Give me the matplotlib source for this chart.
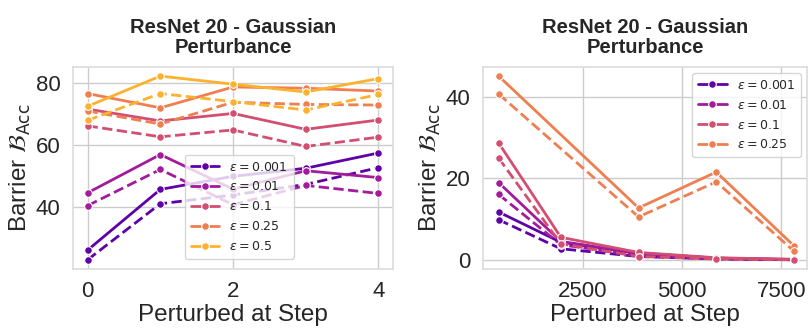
import numpy as np
import matplotlib
matplotlib.use("Agg")
import matplotlib.pyplot as plt
import seaborn as sns
from matplotlib.lines import Line2D

sns.set_theme(style="whitegrid")
plt.rcParams['font.family'] = ['Liberation Sans', 'DejaVu Sans']
plt.rcParams['mathtext.fontset'] = 'dejavusans'

# ---------------- data ----------------
eps_left = ["0.001", "0.01", "0.1", "0.25", "0.5"]
steps_left = [0, 1, 2, 3, 4]
left_solid = {
    "0.001": [26.3, 45.8, 50.0, 52.6, 57.5],
    "0.01": [44.7, 57.0, 45.9, 51.8, 49.6],
    "0.1": [71.6, 67.8, 70.2, 65.1, 68.1],
    "0.25": [76.6, 72.0, 78.7, 78.3, 77.4],
    "0.5": [72.5, 82.2, 79.6, 77.1, 81.4],
}
left_dashed = {
    "0.001": [23.2, 41.2, 44.0, 47.4, 52.8],
    "0.01": [40.6, 52.2, 40.9, 47.1, 44.5],
    "0.1": [66.2, 62.7, 64.9, 59.6, 62.6],
    "0.25": [71.0, 66.8, 73.8, 73.1, 72.9],
    "0.5": [68.0, 76.6, 74.0, 71.3, 76.3],
}

eps_right = ["0.001", "0.01", "0.1", "0.25"]
steps_right = [391, 1955, 3910, 5865, 7820]
right_solid = {
    "0.001": [11.7, 4.3, 1.6, 0.4, 0.0],
    "0.01": [18.9, 4.5, 1.6, 0.4, 0.1],
    "0.1": [28.6, 5.5, 1.8, 0.5, 0.1],
    "0.25": [45.0, np.nan, 12.7, 21.5, 3.4],
}
right_dashed = {
    "0.001": [9.8, 2.7, 0.8, 0.2, 0.0],
    "0.01": [16.0, 3.7, 1.0, 0.2, 0.0],
    "0.1": [24.9, 3.9, 0.8, 0.2, 0.0],
    "0.25": [40.6, np.nan, 10.5, 19.1, 2.1],
}

cmap = plt.get_cmap("plasma")
colors = [cmap(v) for v in (0.17, 0.35, 0.53, 0.68, 0.83)]

fig = plt.figure(figsize=(8.12, 3.28), dpi=100)
ax1 = fig.add_axes([0.090, 0.180, 0.394, 0.616])
ax2 = fig.add_axes([0.595, 0.180, 0.399, 0.616])

MS = 5.5

def draw(ax, steps, eps_list, solid, dashed):
    for i, e in enumerate(eps_list):
        c = colors[i]
        for data, ls in ((solid, '-'), (dashed, '--')):
            y = np.array(data[e], dtype=float)
            x = np.array(steps, dtype=float)
            m = ~np.isnan(y)
            ax.plot(x[m], y[m], ls=ls, color=c, lw=2, marker='o', ms=MS,
                    markeredgecolor='white', markeredgewidth=0.8)

def style(ax):
    ax.set_title("ResNet 20 - Gaussian\nPerturbance", fontsize=14.5,
                 fontweight='bold', linespacing=1.1, pad=10)
    ax.set_xlabel("Perturbed at Step", fontsize=17.5, labelpad=1)
    ax.set_ylabel(r"Barrier $\mathcal{B}_{\mathrm{Acc}}$", fontsize=17.5, labelpad=2)
    ax.tick_params(axis='both', labelsize=16, pad=3)
    for s in ax.spines.values():
        s.set_color('#dddddd')

draw(ax1, steps_left, eps_left, left_solid, left_dashed)
draw(ax2, steps_right, eps_right, right_solid, right_dashed)
style(ax1)
style(ax2)
ax1.set_xticks([0, 2, 4])
ax1.set_yticks([40, 60, 80])
ax2.set_xticks([2500, 5000, 7500])
ax2.set_yticks([0, 20, 40])
ax2.set_xlim(0, 8150)

def leg_handles(n):
    return [Line2D([], [], color=colors[i], lw=2, marker='o', ms=MS,
                   markeredgecolor='white', markeredgewidth=0.8) for i in range(n)]

ax1.legend(leg_handles(5), [rf"$\varepsilon = {e}$" for e in eps_left],
           loc='lower left', bbox_to_anchor=(0.33, 0.02), fontsize=9,
           handlelength=2.3, labelspacing=0.55, borderpad=0.45, framealpha=0.8)
ax2.legend(leg_handles(4), [rf"$\varepsilon = {e}$" for e in eps_right],
           loc='upper right', fontsize=9,
           handlelength=2.3, labelspacing=0.55, borderpad=0.45, framealpha=0.8)

fig.savefig("out.png", dpi=100)
